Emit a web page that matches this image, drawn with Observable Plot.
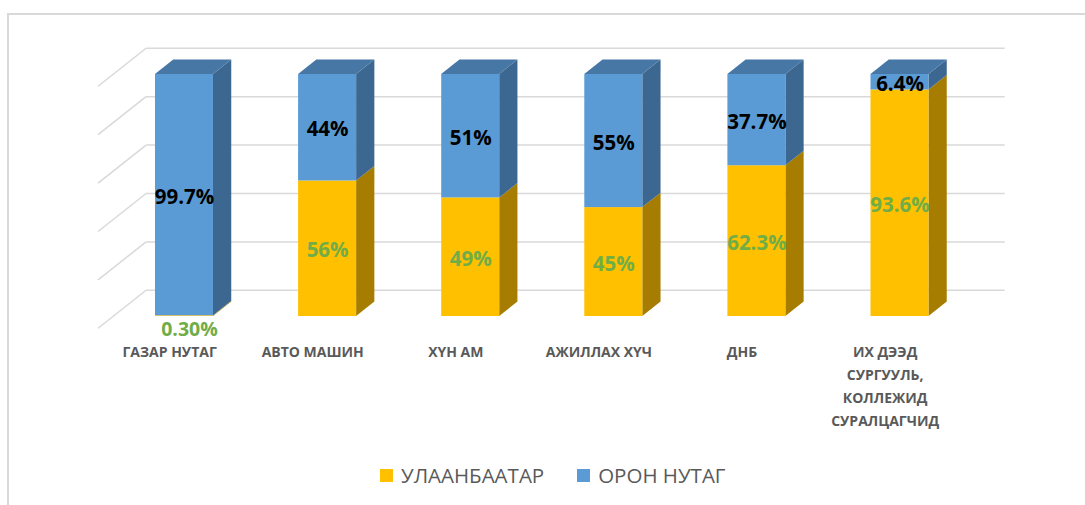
<!DOCTYPE html>
<html>
<head>
<meta charset="utf-8">
<script src="https://cdn.jsdelivr.net/npm/d3@7"></script>
<script src="https://cdn.jsdelivr.net/npm/@observablehq/plot@0.6"></script>
<style>
  body { margin: 0; background: #fff; font-family: "Open Sans", sans-serif; }
  #frame { position: absolute; left: 7px; top: 13px; width: 1200px; height: 600px;
           border-left: 2px solid #d9d9d9; border-top: 2px solid #d9d9d9; box-sizing: border-box; pointer-events: none; }
  #chart { position: absolute; left: 0; top: 0; }
  #legend { position: absolute; left: 380px; top: 460px; height: 30px; display: flex; align-items: center;
            font-family: "Open Sans", sans-serif; font-size: 20.5px; color: #595959; }
  #legend .sw { width: 13px; height: 13px; display: inline-block; margin-right: 8px; }
  #legend .item { display: flex; align-items: center; margin-right: 33px; }
</style>
</head>
<body>
<div id="chart"></div>
<div id="legend"></div>
<div id="frame"></div>
<script>
// ---- data ----
const categories = ["ГАЗАР НУТАГ", "АВТО МАШИН", "ХҮН АМ", "АЖИЛЛАХ ХҮЧ", "ДНБ", "ИХ ДЭЭД\nСУРГУУЛЬ,\nКОЛЛЕЖИД\nСУРАЛЦАГЧИД"];
const seriesNames = ["УЛААНБААТАР", "ОРОН НУТАГ"];
const ulaanbaatar = [0.3, 56, 49, 45, 62.3, 93.6];
const oronNutag = [99.7, 44, 51, 55, 37.7, 6.4];
const ulaanbaatarLabels = ["0.30%", "56%", "49%", "45%", "62.3%", "93.6%"];
const oronNutagLabels = ["99.7%", "44%", "51%", "55%", "37.7%", "6.4%"];
const gridTicks = [0, 20, 40, 60, 80, 100];

// ---- styles ----
const colors = {
  front: ["#FFC000", "#5B9BD5"],
  side:  ["#A67D00", "#3B6790"],
  top:   ["#C89600", "#4777A4"]
};
const labelColors = ["#70AD47", "#000000"];

// ---- 3D projection (in scale units) ----
const KX = 0.3354;   // x shift for full depth (category units)
const KY = 15.70;    // y shift for full depth (percent units)
const ZF = 0.31, ZB = 0.69; // bar front/back depth fractions
const HW = 0.2027;   // half bar width (category units)
const dxb = (ZB - ZF) * KX, dyb = (ZB - ZF) * KY;

const H = 450;

// segments
const segs = [];
categories.forEach((c, i) => {
  const vals = [ulaanbaatar[i], oronNutag[i]];
  let base = 0;
  vals.forEach((v, s) => {
    segs.push({i, s, y1: base, y2: base + v, v, label: s === 0 ? ulaanbaatarLabels[i] : oronNutagLabels[i], top: s === 1});
    base += v;
  });
});

// side faces
const sideRows = [];
segs.forEach((g, k) => {
  sideRows.push({key: k, s: g.s, x: g.i + HW, y1: g.y1, y2: g.y2});
  sideRows.push({key: k, s: g.s, x: g.i + HW + dxb, y1: g.y1 + dyb, y2: g.y2 + dyb});
});
// top faces
const topRows = [];
segs.filter(g => g.top).forEach((g, k) => {
  const t = g.y2;
  topRows.push({key: k, s: g.s, x: g.i - HW, y1: t, y2: t});
  topRows.push({key: k, s: g.s, x: g.i - HW + dxb, y1: t, y2: t + dyb});
  topRows.push({key: k, s: g.s, x: g.i + HW, y1: t, y2: t + dyb});
  topRows.push({key: k, s: g.s, x: g.i + HW + dxb, y1: t + dyb, y2: t + dyb});
});

// walls
const n = categories.length;
const backZ = 1 - ZF, leftZ = -ZF;
const backLines = gridTicks.map(v => ({x1: -0.5 + backZ * KX, x2: n - 0.5 + backZ * KX, y: v + backZ * KY}));
const sideLines = gridTicks.map(v => ({x1: -0.5 + leftZ * KX, y1: v + leftZ * KY, x2: -0.5 + backZ * KX, y2: v + backZ * KY}));

// value labels
const valueLabels = segs.map(g => {
  const small = g.v < 3;
  return {x: g.i, y: small ? 0 : (g.y1 + g.y2) / 2, label: g.label, s: g.s, small};
});

const catRows = categories.map((c, i) => ({x: i + leftZ * KX, y: leftZ * KY, label: c}));

const chart = Plot.plot({
  width: 1085,
  height: H,
  marginLeft: 184,
  marginRight: 185.5,
  marginTop: 74,
  marginBottom: H - 316,
  x: {domain: [0, n - 1], axis: null},
  y: {domain: [0, 100], axis: null},
  style: {fontFamily: "Open Sans, sans-serif", background: "transparent", overflow: "visible"},
  marks: [
    Plot.link(backLines, {x1: "x1", x2: "x2", y1: "y", y2: "y", stroke: "#d9d9d9", strokeWidth: 1.5}),
    Plot.link(sideLines, {x1: "x1", y1: "y1", x2: "x2", y2: "y2", stroke: "#d9d9d9", strokeWidth: 1.5}),
    Plot.areaY(sideRows, {x: "x", y1: "y1", y2: "y2", z: "key", fill: d => colors.side[d.s]}),
    Plot.areaY(topRows, {x: "x", y1: "y1", y2: "y2", z: "key", fill: d => colors.top[d.s]}),
    Plot.rect(segs, {x1: d => d.i - HW, x2: d => d.i + HW, y1: "y1", y2: "y2", fill: d => colors.front[d.s]}),
    Plot.text(valueLabels.filter(d => !d.small), {x: "x", y: "y", text: "label", fill: d => labelColors[d.s], fontSize: 20.5, fontWeight: "bold", dy: 2}),
    Plot.text(valueLabels.filter(d => d.small), {x: "x", y: "y", text: "label", fill: d => labelColors[d.s], fontSize: 19.5, fontWeight: "bold", dy: 13, dx: 5}),
    Plot.text(catRows, {x: "x", y: "y", text: "label", fill: "#595959", fontSize: 14, fontWeight: "bold", lineAnchor: "top", dy: 12, lineHeight: 1.65})
  ]
});
document.getElementById("chart").appendChild(chart);

const legend = document.getElementById("legend");
seriesNames.forEach((name, s) => {
  const item = document.createElement("div");
  item.className = "item";
  const sw = document.createElement("span");
  sw.className = "sw";
  sw.style.background = colors.front[s];
  const t = document.createElement("span");
  t.textContent = name;
  item.appendChild(sw); item.appendChild(t);
  legend.appendChild(item);
});
</script>
</body>
</html>
